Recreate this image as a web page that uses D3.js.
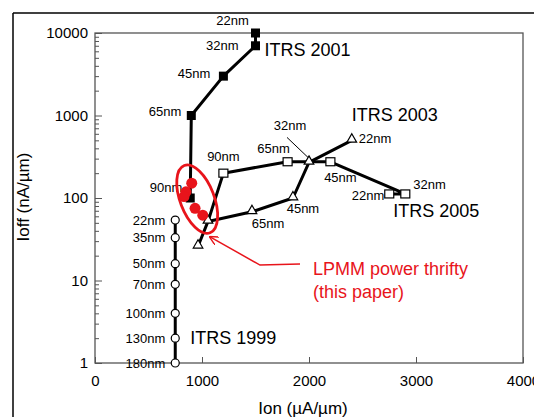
<!DOCTYPE html>
<html><head><meta charset="utf-8">
<script src="https://cdn.jsdelivr.net/npm/d3@7"></script>
<style>
body{margin:0;background:#fff;}
svg{display:block;font-family:"Liberation Sans",Arial,sans-serif;}
</style></head>
<body><svg id="c" width="534" height="417"></svg>
<script>
// ---------- data ----------
const xTicks = [0, 1000, 2000, 3000, 4000];
const yTicks = [1, 10, 100, 1000, 10000];

const itrs1999Nodes = ["180nm","130nm","100nm","70nm","50nm","35nm","22nm"];
const itrs1999Ion   = [750, 750, 750, 750, 750, 750, 750];
const itrs1999Ioff  = [1, 2, 4, 9, 16, 33, 54];

const itrs2001Nodes = ["90nm","65nm","45nm","32nm","22nm"];
const itrs2001Ion   = [890, 900, 1200, 1500, 1500];
const itrs2001Ioff  = [100, 1000, 3000, 7000, 10000];

const itrs2003Nodes = ["", "", "65nm","45nm","32nm","22nm"];
const itrs2003Ion   = [963, 1056, 1467, 1850, 2000, 2400];
const itrs2003Ioff  = [26, 52, 68, 100, 270, 500];

const itrs2005Nodes = ["90nm","65nm","45nm","32nm","22nm"];
const itrs2005Ion   = [1200, 1800, 2200, 2900, 2750];
const itrs2005Ioff  = [200, 275, 275, 112, 112];

const lpmmIon  = [904, 850, 832, 935, 1007];
const lpmmIoff = [151, 119, 104, 75, 62];

const seriesNames = ["ITRS 1999","ITRS 2001","ITRS 2003","ITRS 2005"];
const lpmmLabel = ["LPMM power thrifty", "(this paper)"];

// ---------- layout ----------
const svg = d3.select("#c");
const x = d3.scaleLinear().domain([0, 4000]).range([95, 523]);
const y = d3.scaleLog().domain([1, 10000]).range([363, 33]);
const red = "#e8141b";

// outer frame (top & left)
svg.append("line").attr("x1",13).attr("y1",13).attr("x2",534).attr("y2",13).attr("stroke","#000").attr("stroke-width",1.5);
svg.append("line").attr("x1",13).attr("y1",13).attr("x2",13).attr("y2",417).attr("stroke","#000").attr("stroke-width",1.5);

// plot box
svg.append("rect").attr("x",95).attr("y",33).attr("width",428).attr("height",330)
  .attr("fill","none").attr("stroke","#555").attr("stroke-width",1.3);

// y axis major
svg.append("g").attr("transform","translate(95,0)")
  .call(d3.axisLeft(y).tickValues(yTicks).tickSizeInner(-7).tickSizeOuter(0).tickPadding(7).tickFormat(d3.format("d")));
// y axis minor
const minors = [];
for (let e = 0; e < 4; e++) for (let m = 2; m <= 9; m++) minors.push(m * Math.pow(10, e));
svg.append("g").attr("transform","translate(95,0)")
  .call(d3.axisLeft(y).tickValues(minors).tickSizeInner(-4).tickSizeOuter(0).tickFormat(""));
// x axis
svg.append("g").attr("transform","translate(0,363)")
  .call(d3.axisBottom(x).tickValues(xTicks).tickSizeInner(-6).tickSizeOuter(0).tickPadding(12).tickFormat(d3.format("d")));
svg.selectAll(".domain").remove();
svg.selectAll(".tick line").attr("stroke","#555").attr("stroke-width",1);
svg.selectAll(".tick text").attr("font-size",15).attr("fill","#000").attr("font-family","Liberation Sans, Arial, sans-serif");

// axis titles
svg.append("text").attr("x",303).attr("y",408).attr("text-anchor","middle").attr("dominant-baseline","central")
  .attr("font-size",17).text("Ion (\u00b5A/\u00b5m)");
svg.append("text").attr("transform","translate(23,197) rotate(-90)").attr("text-anchor","middle").attr("dominant-baseline","central")
  .attr("font-size",17).text("Ioff (nA/\u00b5m)");

const line = d3.line().x(d => x(d[0])).y(d => y(d[1]));
function pts(ion, ioff){ return ion.map((v,i)=>[v, ioff[i]]); }

function drawLine(p){
  svg.append("path").attr("d", line(p)).attr("fill","none").attr("stroke","#000").attr("stroke-width",3).attr("stroke-linejoin","round");
}
function label(t, px, py, dx, dy, anchor, size){
  svg.append("text").attr("x", px+dx).attr("y", py+dy).attr("text-anchor", anchor||"middle")
    .attr("dominant-baseline","central").attr("font-size", size||13).attr("fill","#000").text(t);
}

// ITRS 1999
const p99 = pts(itrs1999Ion, itrs1999Ioff);
drawLine(p99);
svg.append("g").selectAll("circle").data(p99).join("circle")
  .attr("cx", d=>x(d[0])).attr("cy", d=>y(d[1])).attr("r",4)
  .attr("fill","#fff").attr("stroke","#000").attr("stroke-width",1.2);
p99.forEach((d,i)=> label(itrs1999Nodes[i], x(d[0]), y(d[1]), -10, 0, "end"));
label(seriesNames[0], x(p99[1][0]), y(p99[1][1]), 15, 0, "start", 18);

// ITRS 2001
const p01 = pts(itrs2001Ion, itrs2001Ioff);
drawLine(p01);
svg.append("g").selectAll("rect").data(p01).join("rect")
  .attr("x", d=>x(d[0])-4.5).attr("y", d=>y(d[1])-4.5).attr("width",9).attr("height",9).attr("fill","#000");
const off01 = [[-8,-11,"end"],[-10,-4,"end"],[-13,-3,"end"],[-17,0,"end"],[-23,-13,"middle"]];
p01.forEach((d,i)=> label(itrs2001Nodes[i], x(d[0]), y(d[1]), off01[i][0], off01[i][1], off01[i][2]));
label(seriesNames[1], x(p01[3][0]), y(p01[3][1]), 9, 4, "start", 18);

// ITRS 2005
const p05 = pts(itrs2005Ion, itrs2005Ioff);
drawLine([[itrs2003Ion[1], itrs2003Ioff[1]]].concat(p05));
svg.append("g").selectAll("rect").data(p05).join("rect")
  .attr("x", d=>x(d[0])-4.5).attr("y", d=>y(d[1])-4).attr("width",9).attr("height",8)
  .attr("fill","#fff").attr("stroke","#000").attr("stroke-width",1.2);
const off05 = [[0,-17,"middle"],[-14,-13,"middle"],[10,16,"middle"],[8,-9,"start"],[-5,2,"end"]];
p05.forEach((d,i)=> label(itrs2005Nodes[i], x(d[0]), y(d[1]), off05[i][0], off05[i][1], off05[i][2]));
label(seriesNames[3], x(p05[4][0]), y(p05[4][1]), 4, 17, "start", 18);

// ITRS 2003
const p03 = pts(itrs2003Ion, itrs2003Ioff);
drawLine(p03);
const tri = d3.symbol().type(d3.symbolTriangle).size(40);
svg.append("g").selectAll("path").data(p03).join("path")
  .attr("d", tri).attr("transform", d=>`translate(${x(d[0])},${y(d[1])-1})`)
  .attr("fill","#fff").attr("stroke","#000").attr("stroke-width",1.2);
const off03 = [null,null,[16,12,"middle"],[10,10,"middle"],[-19,-37,"middle"],[7,-2,"start"]];
p03.forEach((d,i)=>{ if(off03[i]) label(itrs2003Nodes[i], x(d[0]), y(d[1]), off03[i][0], off03[i][1], off03[i][2]); });
label(seriesNames[2], x(p03[5][0]), y(p03[5][1]), 0, -25, "start", 18);
svg.append("line").attr("x1", x(p03[4][0])-22).attr("y1", y(p03[4][1])-25)
  .attr("x2", x(p03[4][0])-1).attr("y2", y(p03[4][1])-5).attr("stroke","#000").attr("stroke-width",1);

// LPMM
const pl = pts(lpmmIon, lpmmIoff);
svg.append("g").selectAll("circle").data(pl).join("circle")
  .attr("cx", d=>x(d[0])).attr("cy", d=>y(d[1])).attr("r",5.5).attr("fill",red);
const ecx = x(955), ecy = y(97);
svg.append("ellipse").attr("cx",0).attr("cy",0).attr("rx",17).attr("ry",36)
  .attr("transform",`translate(${ecx},${ecy}) rotate(-21)`)
  .attr("fill","none").attr("stroke",red).attr("stroke-width",2.8);

// arrow
svg.append("defs").append("marker").attr("id","ah").attr("viewBox","0 0 10 10").attr("refX",9).attr("refY",5)
  .attr("markerWidth",9).attr("markerHeight",9).attr("markerUnits","userSpaceOnUse").attr("orient","auto")
  .append("path").attr("d","M0,0 L10,5 L0,10").attr("fill","none").attr("stroke",red).attr("stroke-width",1.6);
const arrowPts = [[1916,15.8],[1542,15.4],[1075,33.7]];
svg.append("path").attr("d", line(arrowPts)).attr("fill","none").attr("stroke",red).attr("stroke-width",1.5)
  .attr("marker-end","url(#ah)");
svg.append("text").attr("x", x(arrowPts[0][0])+13).attr("y", y(arrowPts[0][1])+5).attr("dominant-baseline","central")
  .attr("font-size",18).attr("fill",red).text(lpmmLabel[0]);
svg.append("text").attr("x", x(arrowPts[0][0])+13).attr("y", y(arrowPts[0][1])+28).attr("dominant-baseline","central")
  .attr("font-size",18).attr("fill",red).text(lpmmLabel[1]);
</script></body></html>
